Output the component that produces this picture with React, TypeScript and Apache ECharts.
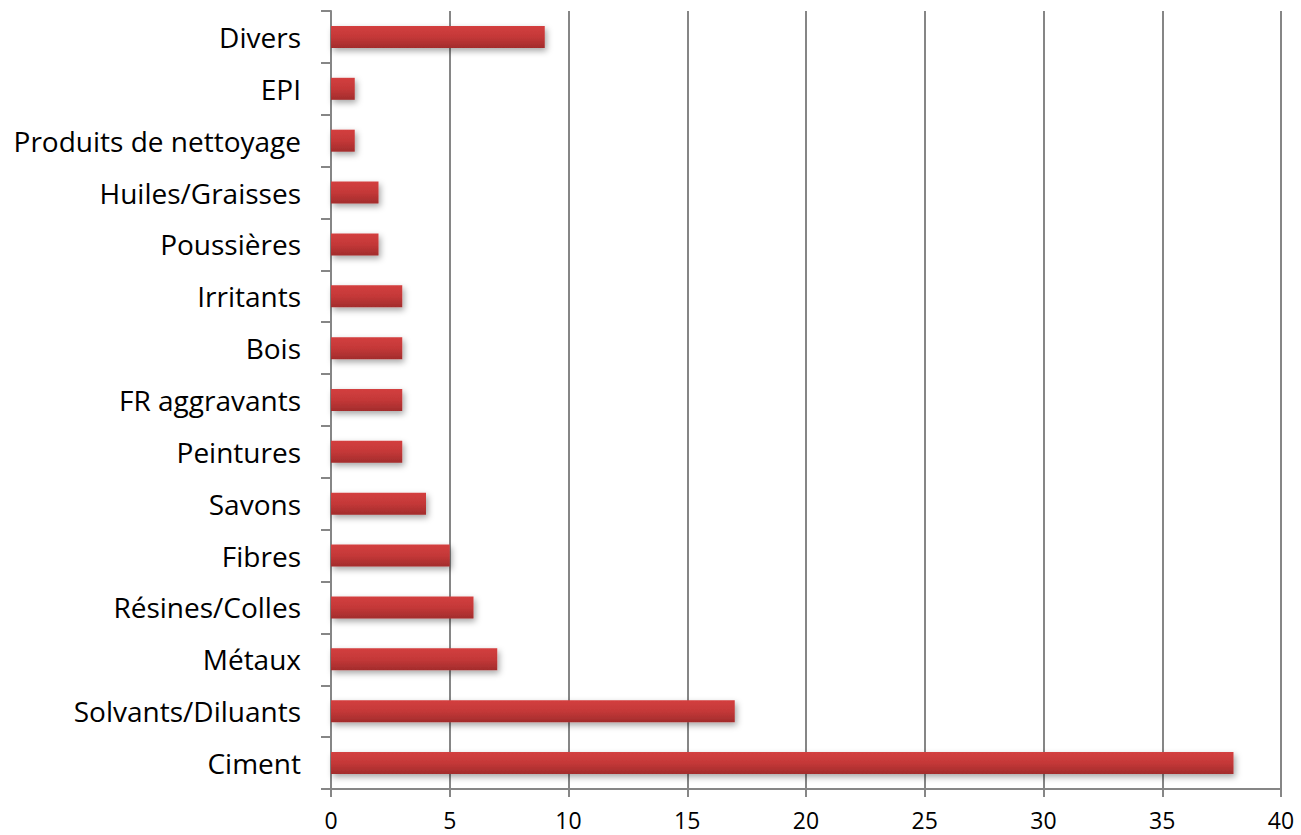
import React, { useEffect, useRef } from "react";
import * as echarts from "echarts";

const categories = [
  "Ciment",
  "Solvants/Diluants",
  "Métaux",
  "Résines/Colles",
  "Fibres",
  "Savons",
  "Peintures",
  "FR aggravants",
  "Bois",
  "Irritants",
  "Poussières",
  "Huiles/Graisses",
  "Produits de nettoyage",
  "EPI",
  "Divers",
];
const values = [38, 17, 7, 6, 5, 4, 3, 3, 3, 3, 2, 2, 1, 1, 9];
const xMin = 0;
const xMax = 40;
const xStep = 5;

export default function App() {
  const ref = useRef<HTMLDivElement>(null);
  useEffect(() => {
    if (!ref.current) return;
    const chart = echarts.init(ref.current, null, { renderer: "svg" });
    chart.setOption({
      animation: false,
      backgroundColor: "#ffffff",
      grid: { left: 331, right: 20, top: 11, bottom: 46, containLabel: false },
      xAxis: {
        type: "value",
        min: xMin,
        max: xMax,
        interval: xStep,
        axisLine: { show: true, lineStyle: { color: "#868686", width: 2 } },
        axisTick: { show: true, length: 8, lineStyle: { color: "#868686", width: 2 } },
        splitLine: { show: true, lineStyle: { color: "#868686", width: 2 } },
        axisLabel: {
          color: "#000",
          fontSize: 23,
          lineHeight: 24,
          fontFamily: "Open Sans",
          margin: 19,
        },
      },
      yAxis: {
        type: "category",
        data: categories,
        axisLine: { show: true, lineStyle: { color: "#868686", width: 2 } },
        axisTick: { show: true, length: 10, lineStyle: { color: "#868686", width: 2 } },
        axisLabel: {
          color: "#000",
          fontSize: 28,
          fontFamily: "Open Sans",
          margin: 30,
        },
      },
      series: [
        {
          type: "bar",
          data: values,
          barWidth: 22,
          itemStyle: {
            color: new echarts.graphic.LinearGradient(0, 0, 0, 1, [
              { offset: 0, color: "#d33f3f" },
              { offset: 0.5, color: "#c43838" },
              { offset: 1, color: "#a22c2c" },
            ]),
            shadowColor: "rgba(0,0,0,0.35)",
            shadowBlur: 6,
            shadowOffsetX: 2,
            shadowOffsetY: 3,
          },
        },
      ],
    });
    return () => chart.dispose();
  }, []);
  return <div ref={ref} style={{ width: 1301, height: 835, position: "absolute", left: 0, top: 0 }} />;
}
